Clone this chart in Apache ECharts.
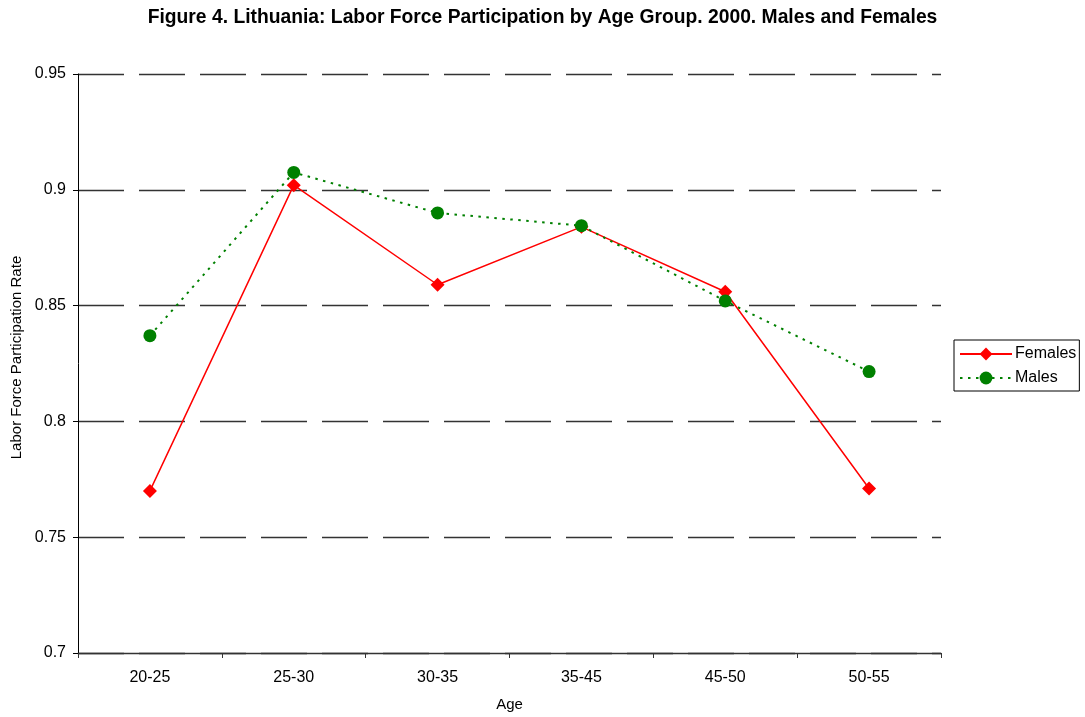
<!DOCTYPE html>
<html>
<head>
<meta charset="utf-8">
<script src="https://cdn.jsdelivr.net/npm/echarts@6/dist/echarts.min.js"></script>
<style>
  html, body { margin: 0; padding: 0; background: #fff; }
  #chart { width: 1085px; height: 717px; }
</style>
</head>
<body>
<div id="chart"></div>
<script>
// Age groups on the horizontal axis
const ageGroups = ['20-25', '25-30', '30-35', '35-45', '45-50', '50-55'];
// Participation rates by sex
const females = [0.770, 0.902, 0.859, 0.884, 0.856, 0.771];
const males = [0.837, 0.9075, 0.890, 0.8845, 0.852, 0.8215];

const font = 'Liberation Sans, Arial, sans-serif';
const chart = echarts.init(document.getElementById('chart'));

chart.setOption({
  backgroundColor: '#fff',
  animation: false,
  title: {
    text: 'Figure 4. Lithuania: Labor Force Participation by Age Group. 2000. Males and Females',
    left: 'center',
    top: 8,
    padding: [0, 0, 0, 6],
    textStyle: { fontFamily: font, fontSize: 19.3, fontWeight: 'bold', color: '#000' }
  },
  legend: {
    orient: 'vertical',
    left: 954,
    top: 340,
    padding: [6, 3, 5, 5],
    itemGap: 8,
    itemWidth: 52,
    itemHeight: 16,
    borderColor: '#000',
    borderWidth: 1,
    borderRadius: 0,
    textStyle: { fontFamily: font, fontSize: 16, color: '#000', padding: [0, 0, 0, -2] },
    data: ['Females', 'Males']
  },
  grid: { left: 78, right: 144, top: 74, bottom: 61 },
  xAxis: {
    type: 'category',
    data: ageGroups,
    boundaryGap: true,
    name: 'Age',
    nameLocation: 'middle',
    nameGap: 44,
    nameTextStyle: { fontFamily: font, fontSize: 15, color: '#000' },
    axisLine: { lineStyle: { color: '#333', width: 1.4 } },
    axisTick: { show: true, length: 5, lineStyle: { color: '#333' } },
    axisLabel: { fontFamily: font, fontSize: 16, color: '#000', margin: 17 }
  },
  yAxis: {
    type: 'value',
    min: 0.7,
    max: 0.95,
    interval: 0.05,
    name: 'Labor Force Participation Rate',
    nameLocation: 'middle',
    nameGap: 52,
    nameTextStyle: { fontFamily: font, fontSize: 15, color: '#000', padding: [0, 0, 0, 12] },
    axisLine: { show: true, lineStyle: { color: '#000', width: 1 } },
    axisTick: { show: true, length: 5, lineStyle: { color: '#000' } },
    axisLabel: { fontFamily: font, fontSize: 16, color: '#000', margin: 12 },
    splitLine: { show: true, lineStyle: { color: '#333', width: 1.4, type: [46, 15] } }
  },
  series: [
    {
      name: 'Females',
      type: 'line',
      data: females,
      symbol: 'diamond',
      symbolSize: 14,
      itemStyle: { color: '#ff0000' },
      lineStyle: { color: '#ff0000', width: 1.5 },
      z: 3
    },
    {
      name: 'Males',
      type: 'line',
      data: males,
      symbol: 'circle',
      symbolSize: 13,
      itemStyle: { color: '#008000' },
      lineStyle: { color: '#008000', width: 2, type: [2.5, 5.5] },
      z: 4
    }
  ]
});
</script>
</body>
</html>
